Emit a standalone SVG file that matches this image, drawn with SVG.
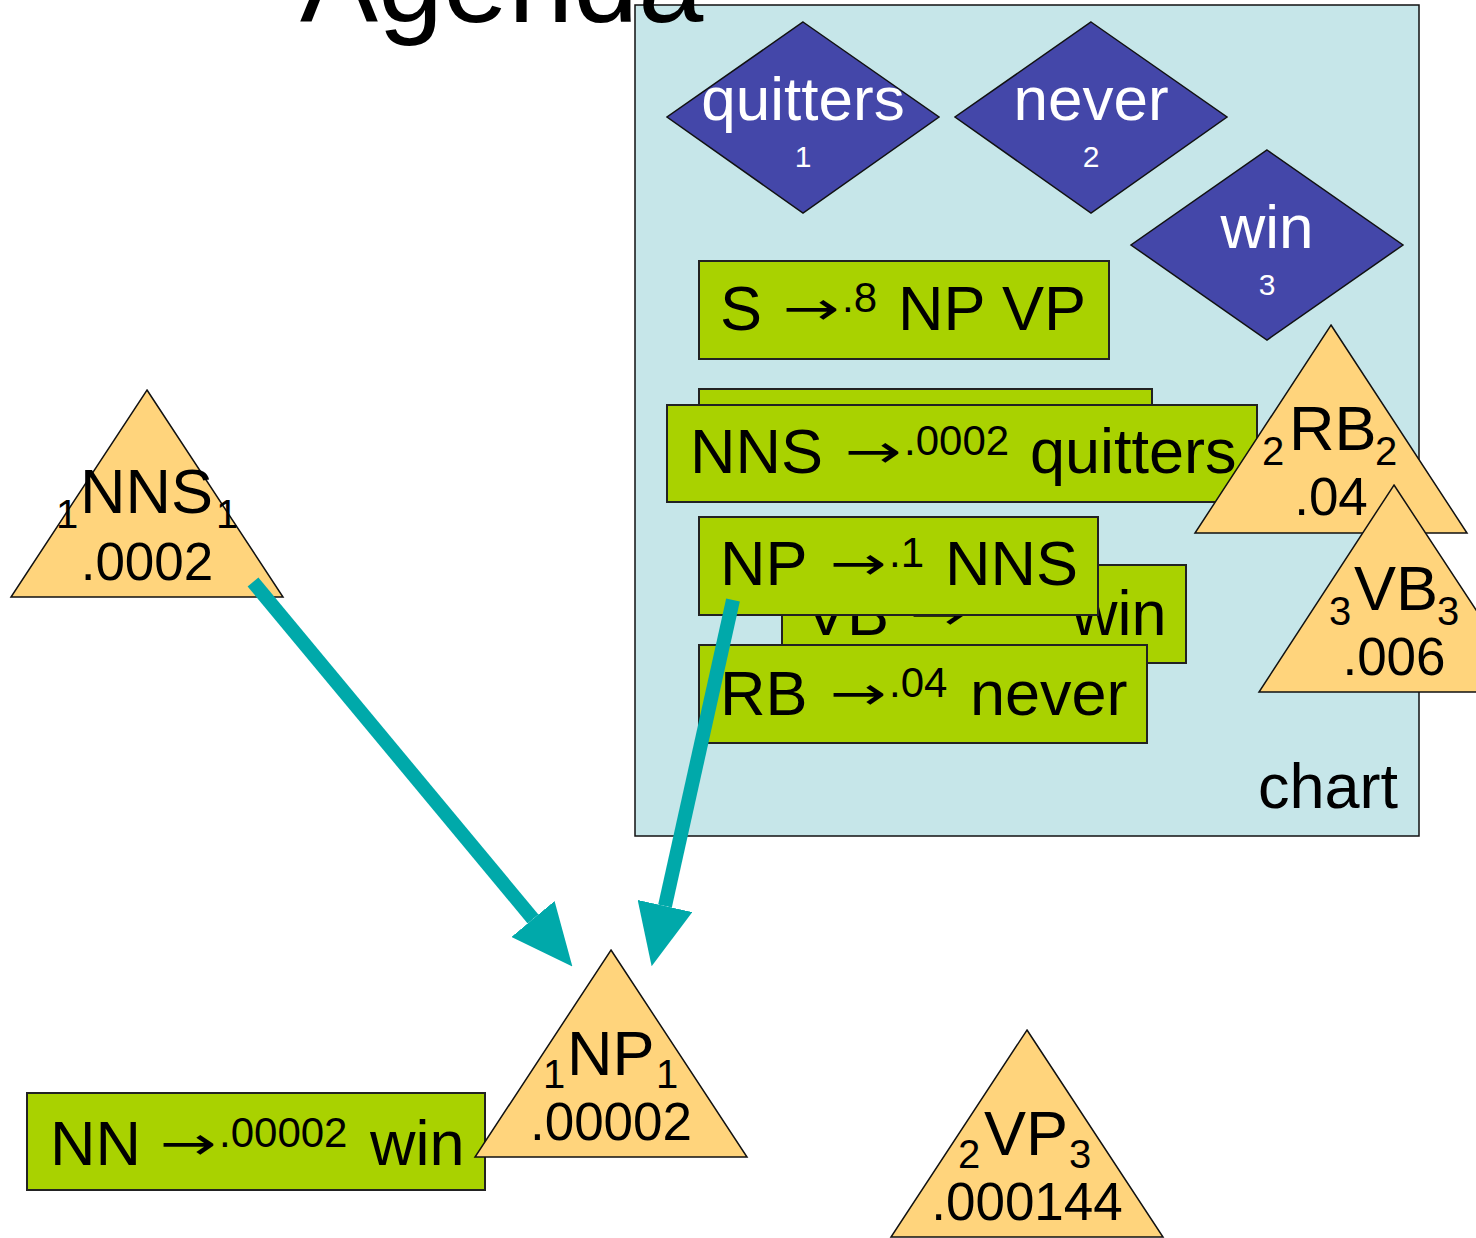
<svg xmlns="http://www.w3.org/2000/svg" width="1476" height="1238" viewBox="0 0 1476 1238">
  <defs>
    <style>
      text { font-family: "Liberation Sans", Arial, sans-serif; fill: #000; }
      .title { font-size: 117px; }
      .word { font-size: 62px; fill: #fff; }
      .idx { font-size: 30px; fill: #fff; }
      .lbl { font-size: 63px; }
      .sup { font-size: 42px; }
      .arr { font-family: "DejaVu Sans", sans-serif; font-size: 46px; }
      .num { font-size: 53px; }
      .sub { font-size: 40px; }
      .box { fill: #A9D200; stroke: #222; stroke-width: 2; }
      .tok { fill: #4447A9; stroke: #111; stroke-width: 1.5; }
      .edge { fill: #FFD47C; stroke: #111; stroke-width: 1.5; }
      .link { stroke: #00A9AA; stroke-width: 14; fill: none; marker-end: url(#head); }
    </style>
    <marker id="head" markerUnits="strokeWidth" markerWidth="4.4" markerHeight="4" refX="0" refY="2" orient="auto" viewBox="0 0 4.4 4">
      <path d="M0,0 L4.4,2 L0,4 Z" fill="#00A9AA"/>
    </marker>
  </defs>

  <!-- chart area -->
  <g id="chart">
    <rect x="635" y="5" width="784" height="831" fill="#C6E6E9" stroke="#111" stroke-width="1.5"/>
    <text class="lbl" x="1258" y="808">chart</text>
  </g>

  <text class="title" x="300" y="22">Agenda</text>

  <!-- input tokens -->
  <g id="tok-quitters">
    <polygon class="tok" points="803,22 939,117 803,213 667,117"/>
    <text class="word" x="803" y="120" text-anchor="middle">quitters</text>
    <text class="idx" x="803" y="167" text-anchor="middle">1</text>
  </g>
  <g id="tok-never">
    <polygon class="tok" points="1091,22 1227,117 1091,213 955,117"/>
    <text class="word" x="1091" y="120" text-anchor="middle">never</text>
    <text class="idx" x="1091" y="167" text-anchor="middle">2</text>
  </g>
  <g id="tok-win">
    <polygon class="tok" points="1267,150 1403,245 1267,340 1131,245"/>
    <text class="word" x="1267" y="248" text-anchor="middle">win</text>
    <text class="idx" x="1267" y="295" text-anchor="middle">3</text>
  </g>

  <!-- grammar rules -->
  <g id="rule-s">
    <rect class="box" x="699" y="261" width="410" height="98"/>
    <text class="lbl" x="720" y="330">S</text>
    <text class="arr" x="783" y="324" textLength="57" lengthAdjust="spacingAndGlyphs">→</text>
    <text class="sup" x="842" y="312">.8</text>
    <text class="lbl" x="898" y="330">NP VP</text>
  </g>
  <g id="rule-hidden">
    <rect class="box" x="699" y="389" width="453" height="98"/>
  </g>
  <g id="rule-nns">
    <rect class="box" x="667" y="405" width="590" height="97"/>
    <text class="lbl" x="690" y="473">NNS</text>
    <text class="arr" x="845" y="467" textLength="57" lengthAdjust="spacingAndGlyphs">→</text>
    <text class="sup" x="904" y="455">.0002</text>
    <text class="lbl" x="1030" y="473">quitters</text>
  </g>
  <g id="rule-vb">
    <rect class="box" x="782" y="565" width="404" height="98"/>
    <text class="lbl" x="805" y="635">VB</text>
    <text class="arr" x="910" y="629" textLength="57" lengthAdjust="spacingAndGlyphs">→</text>
    <text class="sup" x="969" y="609">.006</text>
    <text class="lbl" x="1072" y="635">win</text>
  </g>
  <g id="rule-np">
    <rect class="box" x="699" y="517" width="399" height="98"/>
    <text class="lbl" x="720" y="585">NP</text>
    <text class="arr" x="830" y="579" textLength="57" lengthAdjust="spacingAndGlyphs">→</text>
    <text class="sup" x="889" y="567">.1</text>
    <text class="lbl" x="945" y="585">NNS</text>
  </g>
  <g id="rule-rb">
    <rect class="box" x="699" y="645" width="448" height="98"/>
    <text class="lbl" x="720" y="715">RB</text>
    <text class="arr" x="830" y="709" textLength="57" lengthAdjust="spacingAndGlyphs">→</text>
    <text class="sup" x="889" y="697">.04</text>
    <text class="lbl" x="970" y="715">never</text>
  </g>
  <g id="rule-nn">
    <rect class="box" x="27" y="1093" width="458" height="97"/>
    <text class="lbl" x="50" y="1165">NN</text>
    <text class="arr" x="160" y="1159" textLength="57" lengthAdjust="spacingAndGlyphs">→</text>
    <text class="sup" x="219" y="1147">.00002</text>
    <text class="lbl" x="370" y="1165">win</text>
  </g>

  <!-- completed edges -->
  <g id="edge-rb">
    <polygon class="edge" points="1331,325 1467,533 1195,533"/>
    <text class="sub" x="1262" y="465">2</text>
    <text class="lbl" x="1289" y="450">RB</text>
    <text class="sub" x="1375" y="465">2</text>
    <text class="num" x="1331" y="515" text-anchor="middle">.04</text>
  </g>
  <g id="edge-vb">
    <polygon class="edge" points="1394,485 1530,692 1259,692"/>
    <text class="sub" x="1329" y="625">3</text>
    <text class="lbl" x="1354" y="610">VB</text>
    <text class="sub" x="1437" y="625">3</text>
    <text class="num" x="1394" y="675" text-anchor="middle">.006</text>
  </g>
  <g id="edge-nns">
    <polygon class="edge" points="147,390 283,597 11,597"/>
    <text class="sub" x="56" y="528">1</text>
    <text class="lbl" x="80" y="513">NNS</text>
    <text class="sub" x="216" y="528">1</text>
    <text class="num" x="147" y="580" text-anchor="middle">.0002</text>
  </g>
  <g id="edge-np">
    <polygon class="edge" points="611,950 747,1157 475,1157"/>
    <text class="sub" x="543" y="1088">1</text>
    <text class="lbl" x="567" y="1075">NP</text>
    <text class="sub" x="656" y="1088">1</text>
    <text class="num" x="611" y="1140" text-anchor="middle">.00002</text>
  </g>
  <g id="edge-vp">
    <polygon class="edge" points="1027,1030 1163,1237 891,1237"/>
    <text class="sub" x="958" y="1168">2</text>
    <text class="lbl" x="984" y="1155">VP</text>
    <text class="sub" x="1069" y="1168">3</text>
    <text class="num" x="1027" y="1220" text-anchor="middle">.000144</text>
  </g>

  <!-- combination arrows -->
  <g id="connectors">
    <line class="link" x1="253" y1="582" x2="533" y2="919"/>
    <line class="link" x1="733" y1="600" x2="665" y2="906"/>
  </g>
</svg>
